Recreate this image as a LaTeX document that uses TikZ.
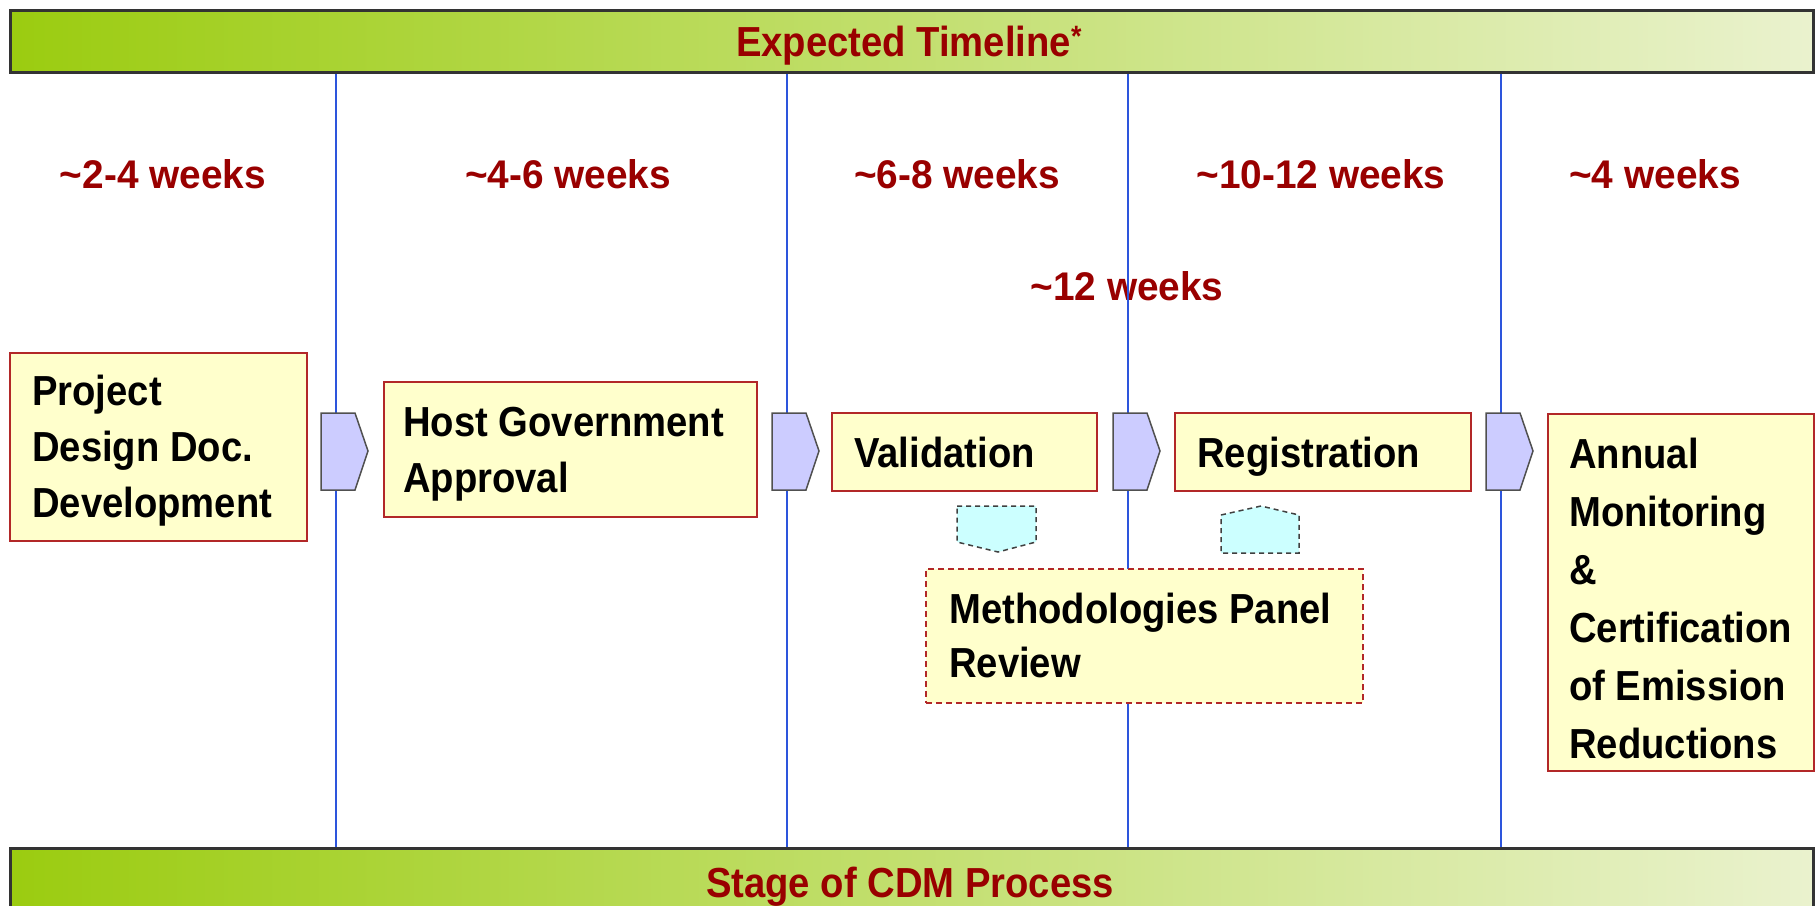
\documentclass[tikz,border=0pt]{standalone}
\usepackage{fontspec}
\setmainfont{Liberation Sans}[FakeStretch=0.91]
\newfontfamily\weekfont{Liberation Sans}[FakeStretch=0.97]
\definecolor{boxred}{RGB}{178,40,40}
\definecolor{boxfill}{RGB}{255,255,204}
\definecolor{wkred}{RGB}{153,0,0}
\definecolor{vline}{RGB}{45,85,220}
\definecolor{chevfill}{RGB}{204,204,255}
\definecolor{chevdraw}{RGB}{80,80,80}
\definecolor{cyanfill}{RGB}{204,255,255}
\definecolor{barL}{RGB}{155,204,16}
\definecolor{barM}{RGB}{205,228,160}
\definecolor{barR}{RGB}{234,242,206}
\begin{document}
\begin{tikzpicture}[x=1pt,y=-1pt,
  bar/.style={rectangle, draw=black!80, line width=2.5pt, left color=barL, middle color=barM, right color=barR, inner sep=0pt, anchor=north west},
  bartext/.style={text=wkred, font=\fontsize{42}{50}\selectfont\bfseries, inner sep=0pt, anchor=base},
  weeklbl/.style={text=wkred, font=\weekfont\fontsize{40}{48}\selectfont\bfseries, inner sep=0pt, anchor=base},
  sep/.style={draw=vline, line width=1.5pt},
  stagebox/.style={rectangle, draw=boxred, fill=boxfill, line width=2pt, inner sep=0pt, anchor=north west},
  panelbox/.style={stagebox, dashed, dash pattern=on 6pt off 4pt},
  txt/.style={inner sep=0pt, anchor=north west, align=left, font=\fontsize{42}{56}\selectfont\bfseries},
  chev/.style={draw=chevdraw, fill=chevfill, line width=1.5pt, line join=miter},
  hint/.style={draw=black!75, fill=cyanfill, line width=1.5pt, dash pattern=on 5pt off 4pt}
]
\useasboundingbox (0,0) rectangle (1815,905);
% bars
\node[bar, minimum width=1803pt, minimum height=62pt] (top) at (9,9) {};
\node[bar, minimum width=1803pt, minimum height=70pt] (bot) at (9,847) {};
\node[bartext] (toptext) at (909,56) {Expected Timeline\textsuperscript{*}};
\node[bartext] (bottext) at (910,897) {Stage of CDM Process};
% week labels
\node[weeklbl] (w1) at (163,188) {\char`\~2-4 weeks};
\node[weeklbl] (w2) at (568,188) {\char`\~4-6 weeks};
\node[weeklbl] (w3) at (957,188) {\char`\~6-8 weeks};
\node[weeklbl] (w4) at (1321,188) {\char`\~10-12 weeks};
\node[weeklbl] (w5) at (1655,188) {\char`\~4 weeks};
\node[weeklbl] (w6) at (1127,300) {\char`\~12 weeks};
% separators
\foreach \x in {336,787,1128,1501}
  \draw[sep] (\x,0 |- top.south) -- (\x,0 |- bot.north);
% boxes
\node[stagebox, minimum width=297pt, minimum height=188pt] (pdd) at (9,352) {};
\node[stagebox, minimum width=373pt, minimum height=135pt] (hga) at (383,381) {};
\node[stagebox, minimum width=265pt, minimum height=78pt] (val) at (831,412) {};
\node[stagebox, minimum width=296pt, minimum height=78pt] (reg) at (1174,412) {};
\node[stagebox, minimum width=266pt, minimum height=357pt] (ann) at (1547,413) {};
\node[panelbox, minimum width=437pt, minimum height=134pt] (mpr) at (925,568) {};
% chevrons
\foreach \x in {336,787,1128,1501}
  \draw[chev] ({\x-15},413) -- ({\x+19},413) -- ({\x+32},451) -- ({\x+19},490) -- ({\x-15},490) -- cycle;
% cyan pentagons
\draw[hint] (957,506) -- (1036,506) -- (1036,542) -- (998,552) -- (957,542) -- cycle;
\draw[hint] (1221,515) -- (1261,506) -- (1299,515) -- (1299,553) -- (1221,553) -- cycle;
% texts
\node[txt] (pddt) at (32,375) {Project\\Design Doc.\\Development};
\node[txt] (hgat) at (403,407) {Host Government\\Approval};
\node[txt] (valt) at (854,437) {Validation};
\node[txt] (regt) at (1197,437) {Registration};
\node[txt, font=\fontsize{42}{58}\selectfont\bfseries] (annt) at (1569,438) {Annual\\Monitoring\\\&\\Certification\\of Emission\\Reductions};
\node[txt, font=\fontsize{42}{54}\selectfont\bfseries] (mprt) at (949,593) {Methodologies Panel\\Review};
\end{tikzpicture}
\end{document}
